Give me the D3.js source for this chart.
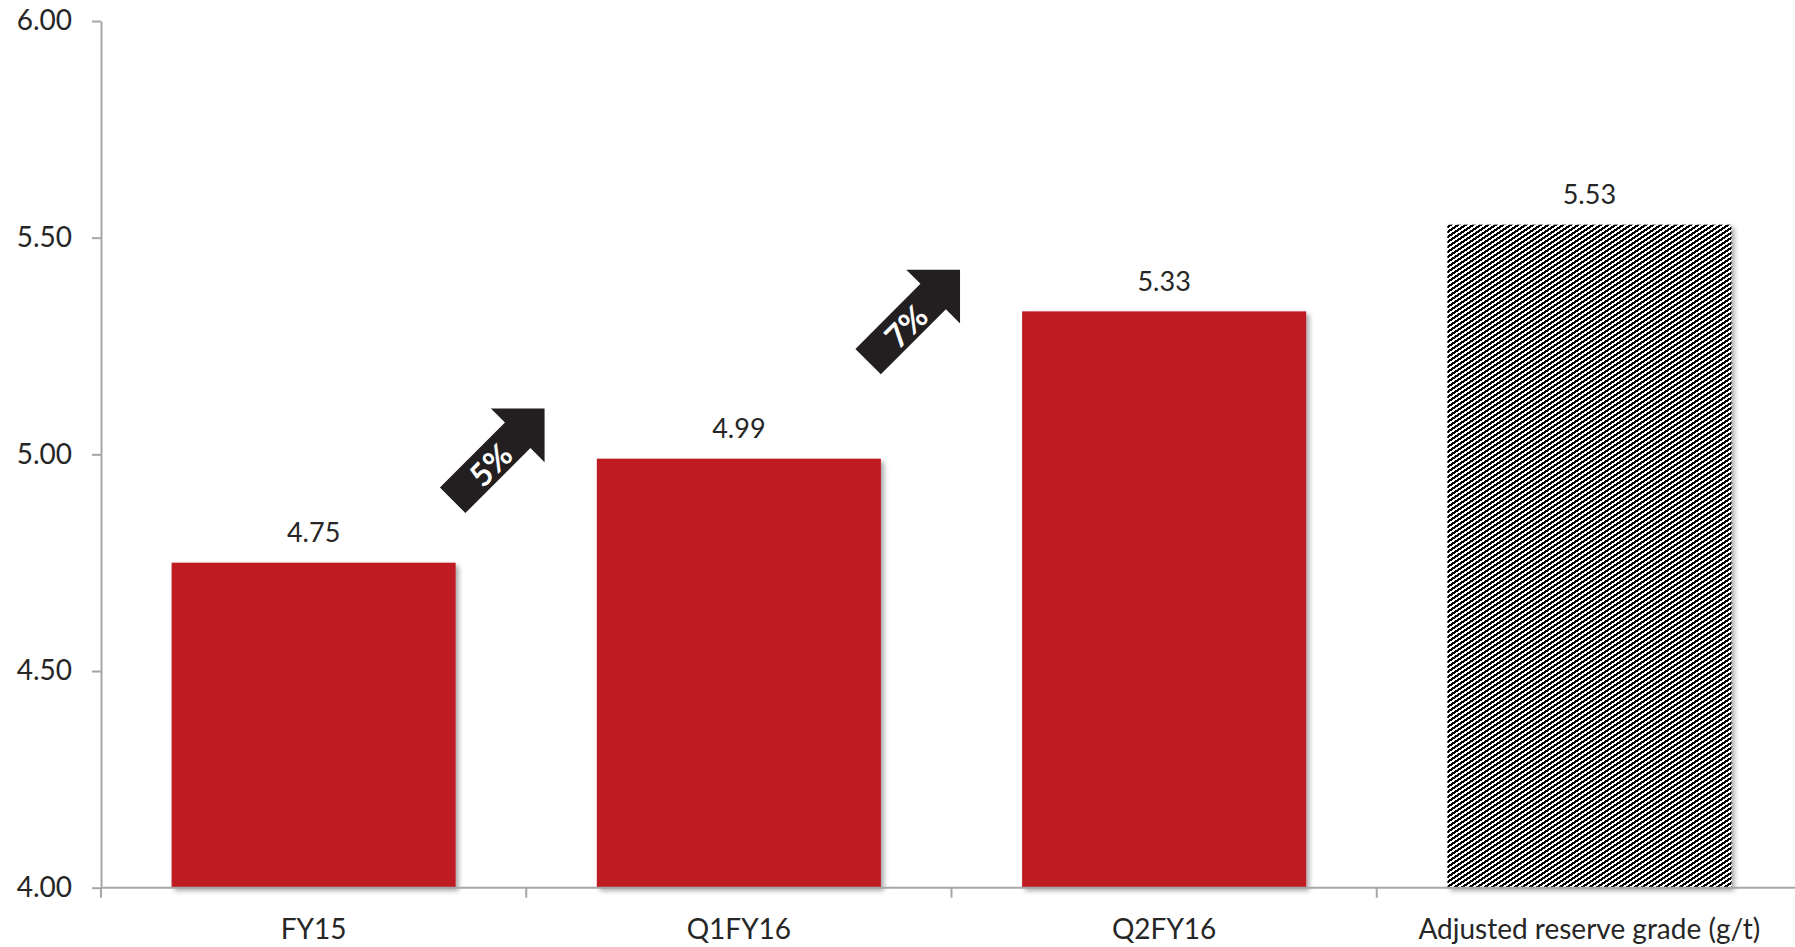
<!DOCTYPE html>
<html><head><meta charset="utf-8">
<script src="https://cdn.jsdelivr.net/npm/d3@7"></script>
<style>body{margin:0;background:#fff;}svg{display:block;}text{font-family:Lato,"Open Sans",sans-serif;}</style>
</head><body>
<script>
const categories = ["FY15","Q1FY16","Q2FY16","Adjusted reserve grade (g/t)"];
const values = [4.75, 4.99, 5.33, 5.53];
const hatched = [false, false, false, true];
const yTicks = [4.00, 4.50, 5.00, 5.50, 6.00];
const arrowLabels = ["5%", "7%"];
const arrowPos = [0.935, 1.912];   // in category units
const arrowVal = [5.00, 5.32];

const W = 1795, H = 947;
const svg = d3.select("body").append("svg").attr("width", W).attr("height", H);
const defs = svg.append("defs");
const f = defs.append("filter").attr("id","sh").attr("x","-10%").attr("y","-10%").attr("width","130%").attr("height","130%");
f.append("feDropShadow").attr("dx",3).attr("dy",3).attr("stdDeviation",2.5).attr("flood-color","#000").attr("flood-opacity",0.35);

// crisp pixel hatch tile (upward diagonal stripes)
const TW = 15, TH = 10;
const pat = defs.append("pattern").attr("id","hatch").attr("patternUnits","userSpaceOnUse")
  .attr("width",TW).attr("height",TH);
pat.append("rect").attr("width",TW).attr("height",TH).attr("fill","#fff");
const px = [];
for (let r = 0; r < TH; r++) for (let c = 0; c < TW; c++) {
  if (((c + 1.5 * r) % 7.5 + 7.5) % 7.5 < 3.75) px.push([c, r]);
}
pat.selectAll("rect.p").data(px).join("rect").attr("class","p")
  .attr("x", d => d[0]).attr("y", d => d[1]).attr("width",1).attr("height",1)
  .attr("fill","#000").attr("shape-rendering","crispEdges");

const x = d3.scaleBand().domain(categories).range([101, 1802]).paddingInner(0.332).paddingOuter(0.166);
const y = d3.scaleLinear().domain([4, 6]).range([887.7, 21]);
const xi = d3.scaleLinear().domain([0, categories.length]).range([101, 1802]);

const axisColor = "#a6a6a6", textColor = "#262626";

// bars
svg.append("g").selectAll("rect").data(values).join("rect")
  .attr("x", (d,i) => x(categories[i]))
  .attr("y", d => y(d))
  .attr("width", x.bandwidth())
  .attr("height", d => y(4) - y(d))
  .attr("fill", (d,i) => hatched[i] ? "url(#hatch)" : "#be1e24")
  .attr("filter", "url(#sh)");

// value labels
svg.append("g").selectAll("text").data(values).join("text")
  .attr("x", (d,i) => x(categories[i]) + x.bandwidth()/2)
  .attr("y", d => y(d) - 31)
  .attr("text-anchor","middle").attr("dominant-baseline","central")
  .attr("font-size", 27).attr("fill", textColor)
  .text(d => d.toFixed(2));

// y axis
const ya = svg.append("g").attr("transform","translate(101,0)")
  .call(d3.axisLeft(y).tickValues(yTicks).tickFormat(d3.format(".2f")).tickSize(9).tickPadding(20).tickSizeOuter(0));
ya.select(".domain").attr("stroke", axisColor).attr("stroke-width", 2);
ya.selectAll(".tick line").attr("stroke", axisColor).attr("stroke-width", 2);
ya.selectAll(".tick text").attr("font-size", 28).attr("fill", textColor).attr("font-family","Lato,'Open Sans',sans-serif");

// x axis
const xa = svg.append("g");
xa.append("line").attr("x1", 101).attr("x2", W).attr("y1", y(4)).attr("y2", y(4))
  .attr("stroke", axisColor).attr("stroke-width", 2);
const bounds = d3.range(categories.length + 1).map(i => xi(i));
xa.selectAll("line.t").data(bounds).join("line").attr("class","t")
  .attr("x1", d => d).attr("x2", d => d).attr("y1", y(4)).attr("y2", y(4) + 10)
  .attr("stroke", axisColor).attr("stroke-width", 2);
xa.selectAll("text").data(categories).join("text")
  .attr("x", d => x(d) + x.bandwidth()/2).attr("y", 928)
  .attr("text-anchor","middle").attr("dominant-baseline","central")
  .attr("font-size", 28).attr("fill", textColor).text(d => d);

// arrows
const arrowPath = "M0,-18L92,-18L92,-38L130,0L92,38L92,18L0,18Z";
const ag = svg.append("g").selectAll("g").data(arrowLabels).join("g")
  .attr("transform", (d,i) => `translate(${xi(arrowPos[i])},${y(arrowVal[i])}) rotate(-45) translate(-65,0)`);
ag.append("path").attr("d", arrowPath).attr("fill", "#231f20");
ag.append("text").attr("x", 52).attr("y", 1).attr("text-anchor","middle").attr("dominant-baseline","central")
  .attr("font-size", 32).attr("font-weight","bold").attr("fill","#fff").text(d => d);
</script>
</body></html>
